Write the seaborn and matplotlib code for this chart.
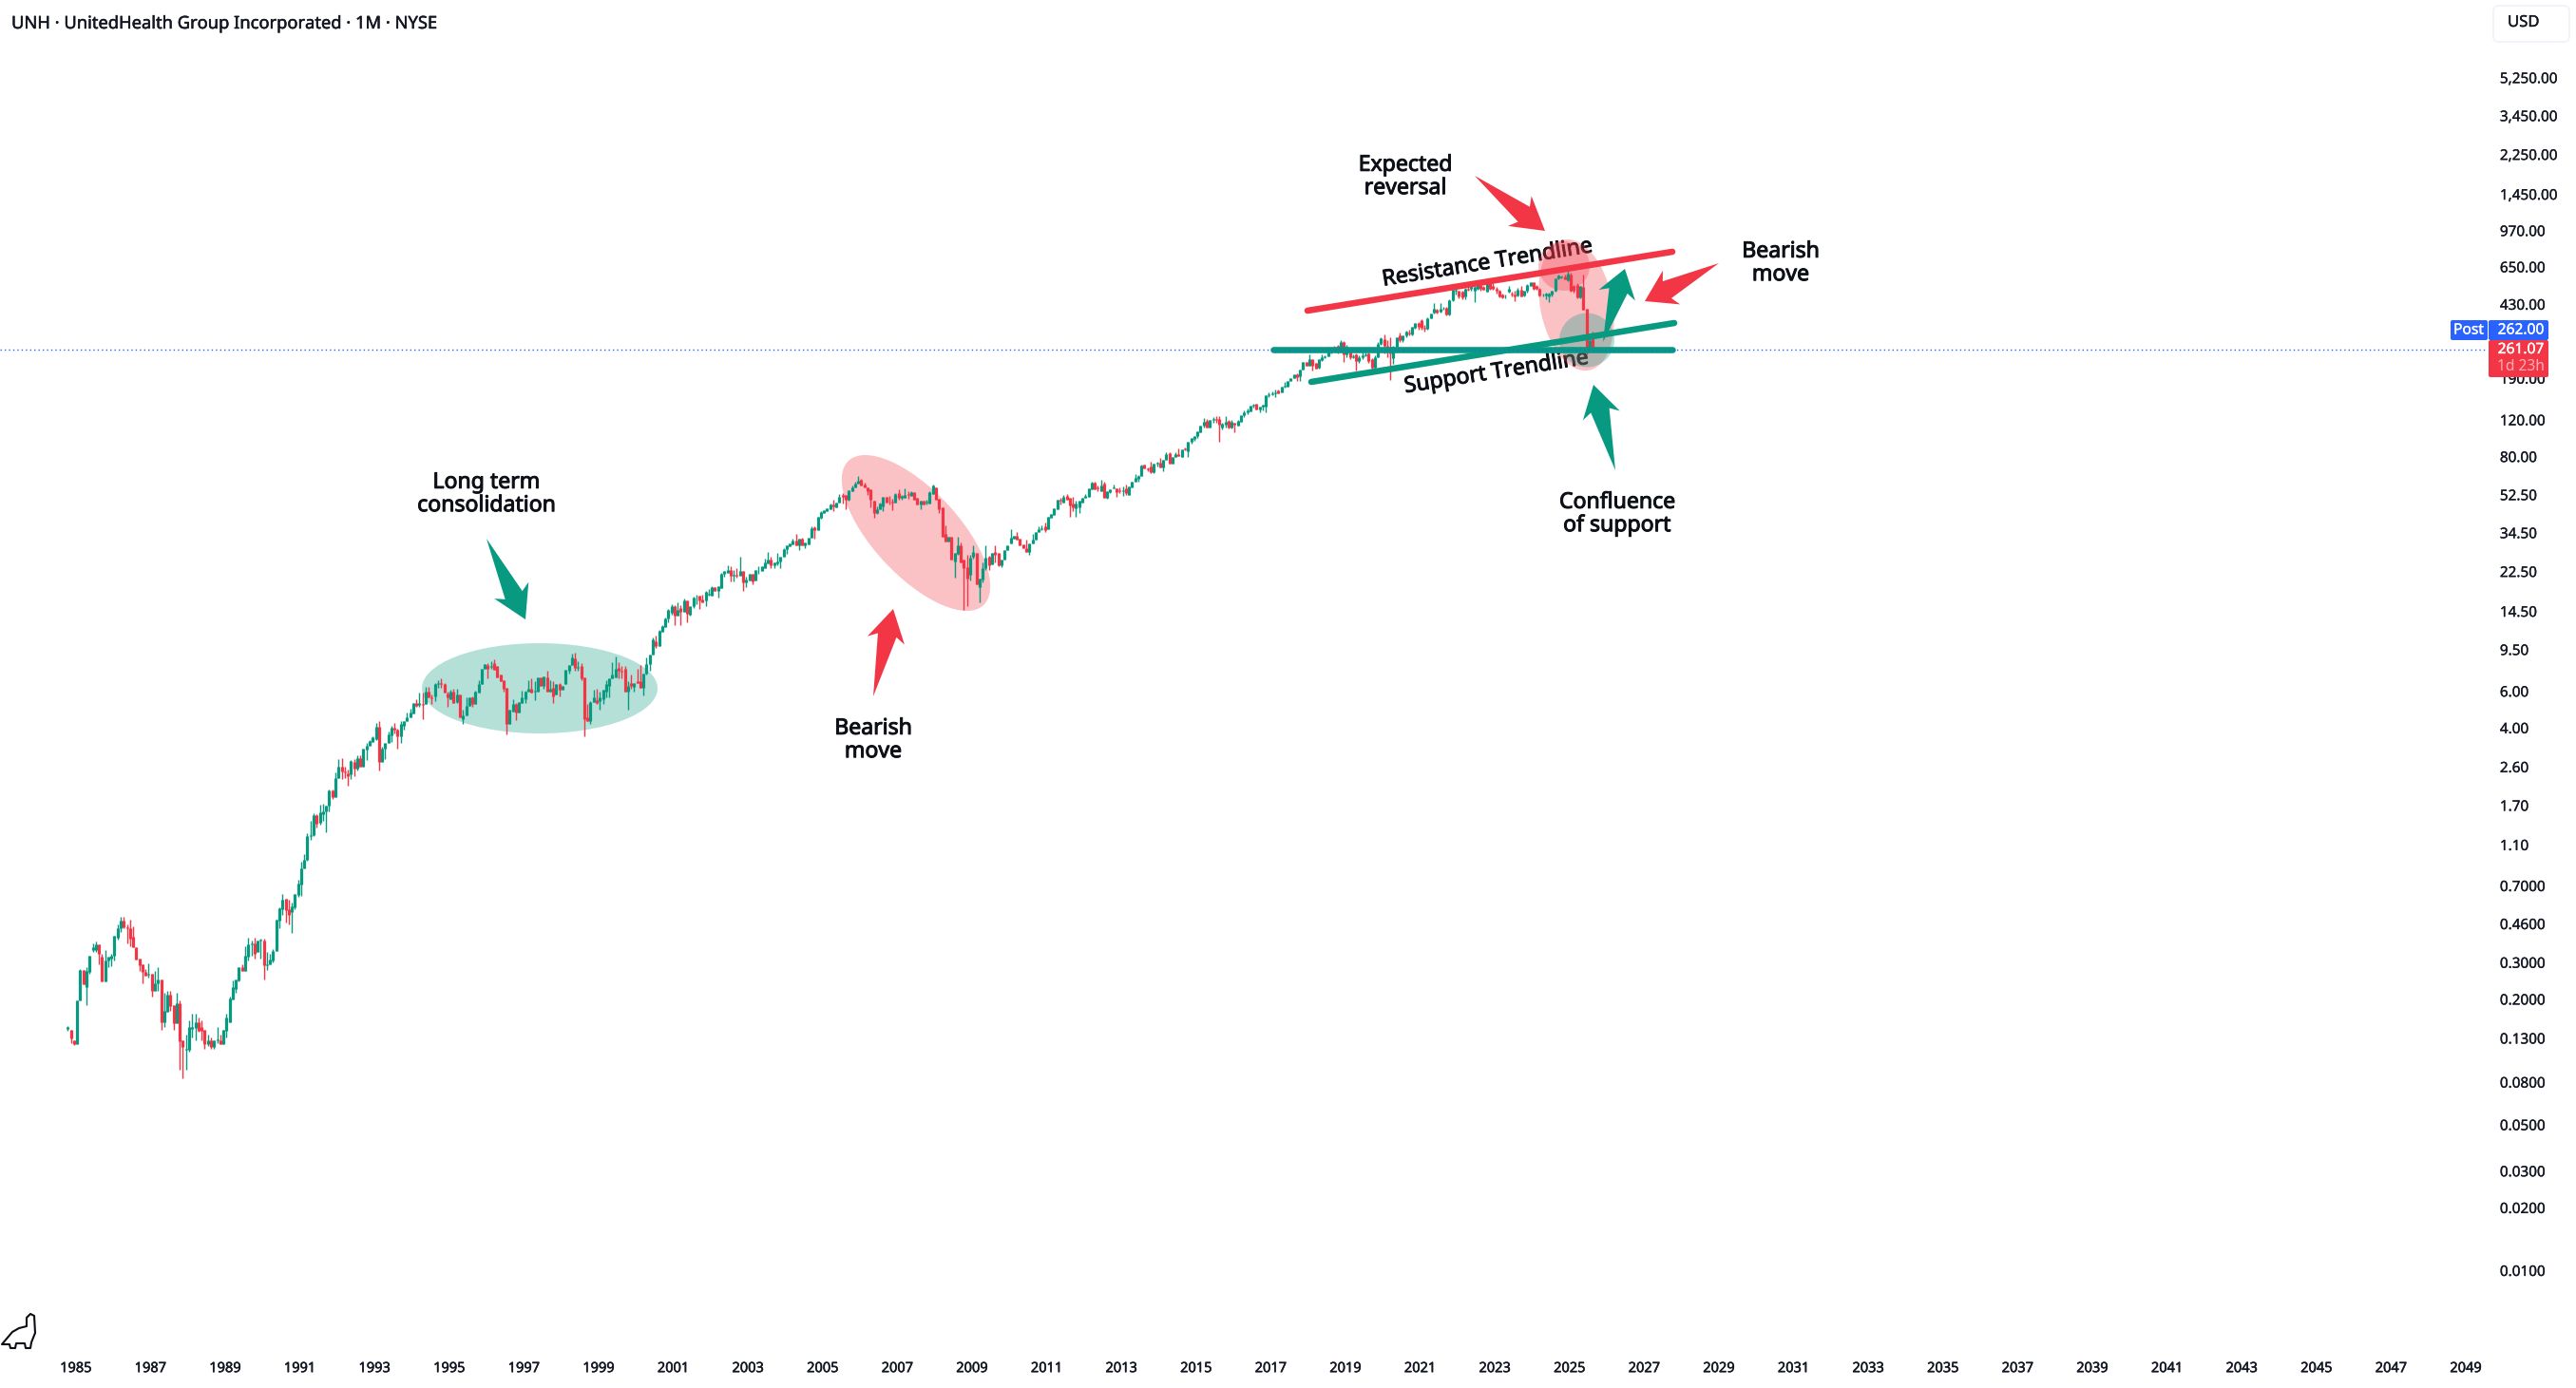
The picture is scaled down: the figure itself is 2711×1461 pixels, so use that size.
import numpy as np
import pandas as pd
import seaborn as sns
import matplotlib
matplotlib.use("Agg")
import matplotlib.pyplot as plt
import matplotlib.patheffects as pe
from matplotlib.patches import Ellipse, Polygon, FancyBboxPatch
from matplotlib.transforms import IdentityTransform
from matplotlib.ticker import NullLocator

# Monthly candles (open, high, low, close), first bar Oct 1984
candles_1984_1991 = [
(.145,.149,.141,.147),(.143,.143,.123,.130),(.127,.127,.121,.122),(.122,.198,.122,.198),(.198,.280,.198,.276),
(.276,.276,.237,.237),(.230,.285,.188,.273),(.270,.323,.265,.323),(.344,.372,.337,.355),(.344,.380,.337,.367),
(.367,.367,.295,.330),(.320,.330,.245,.245),(.245,.344,.245,.307),(.307,.320,.285,.320),(.315,.330,.288,.323),
(.323,.405,.307,.404),(.396,.46,.385,.44),(.44,.50,.42,.477),(.477,.50,.44,.445),(.445,.46,.37,.44),
(.44,.48,.358,.39),(.40,.446,.354,.354),(.356,.356,.31,.31),(.315,.315,.273,.293),(.295,.295,.24,.27),
(.272,.28,.26,.26),(.263,.298,.255,.266),(.265,.265,.206,.22),(.22,.273,.22,.24),(.24,.285,.22,.249),
(.249,.249,.143,.156),(.156,.215,.147,.177),(.175,.22,.175,.21),(.21,.22,.176,.186),(.188,.188,.143,.154),
(.154,.215,.154,.192),(.192,.198,.092,.126),(.127,.127,.084,.118),(.114,.136,.092,.116),(.115,.159,.112,.147),
(.145,.17,.132,.147),(.146,.17,.127,.156),(.156,.164,.14,.142),(.147,.159,.127,.142),(.143,.143,.116,.122),
(.122,.136,.12,.127),(.127,.132,.116,.118),(.118,.127,.116,.127),(.127,.147,.123,.128),(.127,.136,.122,.122),
(.122,.143,.122,.143),(.142,.17,.132,.164),(.156,.206,.156,.202),(.2,.247,.2,.228),(.225,.249,.215,.249),
(.247,.285,.245,.285),(.285,.295,.273,.273),(.273,.36,.273,.323),(.32,.396,.307,.367),(.367,.383,.323,.372),
(.37,.396,.315,.33),(.337,.383,.337,.383),(.383,.39,.315,.388),(.383,.39,.25,.292),(.292,.337,.276,.295),
(.295,.33,.295,.31),(.307,.35,.3,.34),(.34,.48,.34,.48),(.477,.55,.44,.547),(.54,.638,.51,.60),
(.605,.605,.467,.535),(.54,.60,.457,.51),(.525,.58,.415,.56),(.55,.64,.54,.64),(.635,.75,.62,.72),
(.71,.91,.63,.85),(.85,.99,.85,.93),(.93,1.25,.92,1.22),
]
candles_1991_1994 = [
(1.22,1.43,1.16,1.23),(1.23,1.56,1.22,1.53),(1.53,1.55,1.34,1.39),(1.40,1.71,1.38,1.57),(1.55,1.74,1.44,1.60),
(1.59,1.70,1.26,1.70),(1.70,2.02,1.59,2.00),(2.0,2.02,1.82,1.86),(1.86,2.45,1.86,2.30),(2.30,2.83,2.30,2.60),
(2.60,2.88,2.27,2.47),(2.47,2.62,2.30,2.44),(2.43,2.54,2.125,2.36),(2.40,2.80,2.27,2.77),(2.74,2.83,2.36,2.57),
(2.55,2.95,2.5,2.86),(2.88,2.97,2.6,2.6),(2.6,3.2,2.6,3.2),(3.17,3.4,2.8,3.3),(3.28,3.5,3.28,3.47),
(3.43,3.67,3.43,3.6),(3.55,4.22,3.5,4.05),(4.05,4.32,2.5,2.75),(2.75,3.25,2.75,3.2),(3.2,3.4,2.83,3.4),
(3.4,3.85,3.4,3.72),(3.7,4.1,3.44,4.0),(4.0,4.22,3.75,3.92),(3.95,3.98,3.2,3.65),(3.65,4.3,3.4,4.2),
(4.1,4.34,3.95,4.3),(4.3,4.75,4.3,4.5),(4.5,4.95,4.5,4.75),(4.7,5.3,4.7,5.3),(5.3,5.5,5.05,5.1),
(5.15,5.9,5.05,5.3),(5.22,5.9,4.4,5.16),(5.2,6.3,5.2,6.0),
]
candles_1994_2000 = [
(5.96,6.3,5.6,5.6),(5.62,5.8,5.2,5.58),(5.65,6.6,5.4,6.5),(6.5,6.8,6.25,6.55),(6.55,6.9,6.25,6.5),
(6.5,6.55,5.9,5.9),(5.85,5.95,5.05,5.6),(5.5,6.1,5.5,6.0),(6.0,6.2,5.3,5.3),(5.35,6.2,5.3,5.8),
(5.8,5.8,4.5,4.5),(4.4,4.9,4.2,4.6),(4.6,5.6,4.6,5.1),(5.1,5.6,5.1,5.6),(5.6,5.7,5.05,5.2),
(5.2,6.05,5.2,6.0),(5.9,6.8,5.9,6.5),(6.5,7.7,6.5,7.7),(7.7,8.1,7.7,8.1),(8,8.2,6.9,7.7),
(7.85,8.4,7.7,7.95),(8.2,8.5,7.6,7.6),(7.9,7.9,7,7),(7.2,7.2,6.7,6.7),(6.8,6.8,5.95,6.2),
(6.25,6.25,3.72,4.2),(4.2,4.9,4.2,4.9),(4.8,5.5,4.8,5.2),(5.2,5.3,4.35,4.75),(4.75,5.35,4.75,5.35),
(5.3,6.05,5.3,5.6),(5.5,6.05,5.3,6.0),(6,6.8,6,6.2),(6.2,6.9,5.9,5.9),(5.95,6.7,5.45,6.05),
(5.95,7,5.95,7),(7,7,6.4,6.4),(6.4,7.1,6.2,7.05),(7,7.5,6,6),(6,6.8,6,6.2),
(6.25,6.7,5.3,5.7),(5.8,6.5,5.8,6.5),(6.5,6.6,5.7,6.1),(6.1,6.4,6.1,6.4),(6.5,7.6,6.5,7.6),
(7.5,8,7.3,8),(8,9.1,8,8.7),(8.6,9.2,7.5,7.8),(7.75,8.4,7.5,7.85),(7.9,8.2,6.8,6.9),
(7,7,3.65,4.4),(4.5,5.2,4.3,4.3),(4.3,5.4,4.2,5.35),(5.35,6.1,5.35,5.6),(5.45,6.2,5.2,5.3),
(5.4,6.0,4.9,5.6),(5.5,6.1,5.2,6.1),(6,6.8,5.6,6.5),(6.4,6.9,5.6,6.9),(6.9,8.3,6.9,7.2),
(7,8.8,7,7.7),(7.8,8.3,6.9,7.5),(7.55,7.9,6.9,7.45),(7.7,7.9,6,6),(6,6.7,4.9,6.4),
(6.6,7.2,6.2,6.4),(6.3,6.6,6,6.6),(6.7,7.7,6.6,6.6),(6.7,8,6.25,6.25),(6.25,7.3,5.75,7.3),
(7.3,8.7,7.2,8.1),(8.1,9.0,7.5,9.0),(9,10.9,9,10.6),(10.4,11.1,9.7,9.9),(9.9,11.8,9.9,11.7),
(11.6,12.4,11.6,12.3),(12.2,13.5,12.2,13.4),(13.4,14.9,12.8,14.8),
]
candles_2000_2006 = [
(14.3,15.7,14.0,15.3),(15.3,15.5,12.4,13.9),(13.9,16,13.9,14.7),(15,15.6,12.4,14.5),(14.5,16.8,14.5,16.3),
(16.3,16.3,12.9,14.2),(14,15.3,13.9,15.3),(15.3,17.1,15.1,16.9),(17,17.5,15.7,17.15),(17.2,17.3,14.9,16.3),
(16.5,17.5,16,16),(16.3,18.2,15.4,18),(17.5,18.6,17.2,17.7),(17.2,19.1,17.2,18.9),(18.9,18.9,18.2,18.2),
(18.2,19.2,16.9,19.2),(18.8,22.2,18.8,21.9),(21.9,22.6,21.2,22.6),(22.2,24.1,22.2,22.8),(23,24,20.2,21.6),
(21.5,23,20.2,21.7),(21.8,23.3,21,21.5),(21.6,26.5,21.6,22.6),(22.6,22.6,18.2,20),(20,21.3,19,20.7),
(20.5,21.9,20.5,21.9),(21.9,21.9,19.5,20.2),(20.5,23,20.5,22.9),(22.8,23.9,21.9,23),(22.6,24,22.6,23.8),
(23.5,26.1,23.5,25),(24.7,28,24.7,25.8),(25.8,26.4,23.5,24.2),(24.2,25,23.4,25),(24.7,27.6,24.2,25.2),
(25.2,26.5,23.5,26.5),(26.4,29.2,26.4,28.9),(28.9,30,27.5,30),(29.7,30.7,29.7,30.7),(30.5,32.4,30.5,31.8),
(31.8,34,30,30),(30,32.4,28.5,32.4),(32.4,32.7,30,30),(30,31.2,29,31.2),(30.5,32.7,30.5,32.7),
(32.7,37,32.7,36.2),(36.7,37.2,32.4,35.7),(35.4,41.4,35.4,41),(40.7,44,40.4,43.5),(43,44.2,43,44.2),
(44,45.5,44,45.3),(44.9,47.9,44.9,47.3),(47.3,50,44,46.4),(45.9,48.4,45.9,48.4),(48.4,53,48.4,51.5),
(52.6,53.6,47.5,51.5),(52.6,52.6,45,50),
]
candles_2006_2011 = [
(50,55.5,49.5,55.5),(54.8,58,54.8,57.3),(57.3,61,57.3,59.2),(59.2,65,59.2,61.5),(62,62.5,58.4,58.4),
(59,60,57.3,57.3),(57.3,57.3,52.5,54.8),(56,56,46,50),(49,49.5,40.8,43),(43,46.3,42.5,45),
(45,48,45,47.5),(46.3,51.5,44,51.5),(51.5,51.5,48,48),(48.9,52,47,48.5),(48.8,50.5,44.5,48.2),
(48,53.5,48,53),(53.7,56,50,51),(51,52.5,50,51.8),(51,56.5,51,52.5),(52.8,54.8,50.5,52.2),
(52,54.5,52,54),(54,54,50,50),(51,51,47,47),(47,49,45,49),(49,49,47,47),
(48.4,50,47,48.8),(47.5,54.5,47.5,54),(53,59,53,58),(57.3,57.3,50,50),(50.5,50.5,43,45),
(45.6,45.6,33,33),(34,37.5,31.5,31.5),(31.5,33,31.5,33),(33,33,25.7,25.7),(25.3,27.6,21,27.6),
(27.4,33,27,30),(30,31,25,25),(25.7,25.7,14.8,23.4),(23.7,27,15.3,20.8),(21.7,27,20.5,26.3),
(26.6,30,26,28),(27.7,27.7,19.5,19.5),(18.9,20.8,16,20.8),(20.6,25,20,23.4),(23.4,30,23,26.3),
(26.6,26.8,22.8,24.2),(24.5,27.6,24.5,27.6),(28,30,25,27),(27.7,27.7,24,24.2),(24.2,25.7,23.6,25.7),
(25.7,28.4,25.7,28.4),(28.4,30,28.4,30),(30.8,36,30.8,32.8),(32.3,33.5,32.3,33.5),(33.5,35,32,32),
(32.3,32.3,30,30),(30.4,30.4,29,29),(29,32,28,28),
]
candles_2011_2015 = [
(28,30.6,27.2,30.6),(30.6,34,30.6,32),(32,35,32,35),(34.7,37.2,34.7,36),(36,37.6,35.5,36.5),
(37,38.5,35,35.6),(36,41,36,41),(40.7,42.6,40.7,42.6),(42,45.5,42,45.3),(44.8,49.6,44.8,49.6),
(49.6,51,47,49.2),(48,52.6,48,51.5),(52,53,49.6,49.6),(50.7,50.7,41.4,46.8),(47.7,51.3,44,46),
(45.3,49.5,41.4,47.7),(46,49,43,49),(48,50.7,48,50.7),(50.7,53,50.7,52),(51.5,56.5,51.5,56.5),
(56,60.5,56,60),(60,60.5,56,56),(57,58,54.5,56.4),(54.8,62,54.8,58.5),(59.5,60.5,50.7,50.7),
(51,54.8,50.5,54.8),(54.2,56,53.5,56),(56.2,59,56.2,57),(56.5,56.5,51.5,54),(55.2,57,53.5,54.6),
(54.6,57.5,52,55.3),(56.5,59,52.5,53.5),(52.5,57.6,52.5,57.6),(57,60.8,57,60.8),(60.5,66,60.5,63.5),
(63,65.5,61,65),(65,73,65,72.5),(73,73,70,70),(70.5,71,68,69.5),(72,75.5,67,67.3),
(67.3,74,67,74),(74,75.5,72,75),(75,79,71,71),(71,77,68.5,77),(77,84,77,82.6),
(83.5,84.5,74.3,74.3),(74,80,74,80),(80,84,80,82.6),(82.5,88,81,81),
]
candles_2015_2020 = [
(80,87,80,87),(87.7,88.5,85.5,87),(85,94,80,94),(94,98.5,92.5,98),(97,101,95,100),
(100,106,98,106),(105,113,105,113),(113,123,111,118),(119,122,111,111),(111,120,111,120),
(120,124,117,122),(122,125,116,120),(121,125,94,114),(111,116,108,115),(114,125,111,118),
(119,120,109,111),(111,120,109,118),(116,117,105,114),(113,120,113,119),(118,127,118,127),
(126,134,124,130),(130,136,128,133),(132,140,132,140),(140,143,138,142),(143,143,135,135),
(135,139,130,139),(139,142,133,142),(139,157,130,157),(157,163,155,159),(159,165,157,161),
(161,168,155,163),(167,168,161,161),(163,174,163,174),(174,182,172,175),(174,184,174,184),
(184,190,184,190),(190,198,190,198),(198,200,185,192),(194,209,184,209),(209,228,209,228),
(228,228,219,219),(219,247,219,235),(235,236,207,219),(225,225,211,211),(215,235,212,235),
(232,247,230,240),(240,245,238,243),(243,270,243,256),(256,262,250,259),(268,272,262,264),
(272,275,250,256),(255,290,255,285),(285,287,228,247),(247,275,240,270),(265,268,235,240),
(240,247,238,243),(247,250,207,230),(230,246,225,240),(240,256,236,244),(244,252,242,249),
(250,252,225,230),
]
candles_2020_2025 = [
(235,237,207,214),(215,245,212,240),(240,283,240,279),(279,300,275,297),(293,310,250,272),
(272,290,240,255),(258,300,186,250),(237,272,222,269),(269,300,262,300),(305,315,285,291),
(291,305,285,305),(305,322,300,318),(315,325,305,312),(310,335,305,335),(332,350,328,350),
(350,355,325,335),(360,365,325,332),(332,342,318,328),(328,372,325,370),(370,390,368,390),
(395,435,390,409),(405,410,390,395),(397,435,395,409),(409,420,405,412),(415,420,380,385),
(385,455,380,450),(450,510,445,505),(500,510,480,505),(500,500,460,470),(495,500,455,465),
(470,515,455,511),(511,520,500,505),(511,530,500,530),(498,530,440,523),(511,540,505,538),
(534,545,500,511),(520,530,505,505),(495,555,495,550),(550,555,505,511),(530,545,505,511),
(511,520,485,498),(498,505,465,470),(480,485,460,465),(470,480,462,472),(495,530,490,511),
(485,495,470,478),(480,500,445,470),(476,515,470,505),(505,525,470,470),(476,500,472,498),
(498,540,490,535),(530,550,525,547),(547,550,505,511),(530,535,505,511),(511,515,470,475),
(478,485,470,480),(475,490,455,487),(470,490,440,487),(478,500,470,498),(498,575,495,573),
(573,595,568,592),(582,590,575,584),(588,600,565,570),(560,632,555,605),(601,610,495,498),
(530,535,490,498),(534,545,460,465),(465,530,460,525),(520,601,405,407),(409,412,248,266),
(268,305,255,290),(300,320,258,261.07),
]

price_ticks = [5250, 3450, 2250, 1450, 970, 650, 430, 190, 120, 80, 52.5, 34.5, 22.5, 14.5, 9.5, 6, 4,
               2.6, 1.7, 1.1, 0.7, 0.46, 0.3, 0.2, 0.13, 0.08, 0.05, 0.03, 0.02, 0.01]
price_labels = ["5,250.00", "3,450.00", "2,250.00", "1,450.00", "970.00", "650.00", "430.00", "190.00",
                "120.00", "80.00", "52.50", "34.50", "22.50", "14.50", "9.50", "6.00", "4.00", "2.60",
                "1.70", "1.10", "0.7000", "0.4600", "0.3000", "0.2000", "0.1300", "0.0800", "0.0500",
                "0.0300", "0.0200", "0.0100"]
year_labels = list(range(1985, 2050, 2))
last_close = 261.07

TEAL, RED, BLUE, INK = "#089981", "#F23645", "#2962FF", "#131722"
FONT = ["Noto Sans", "DejaVu Sans"]

sns.set_theme(style="white")
plt.rcParams["font.family"] = FONT

W, H = 2711, 1461
fig = plt.figure(figsize=(W / 100, H / 100), dpi=100, facecolor="white")
AX_R, AX_B = 2617, 1420
ax = fig.add_axes([0, 1 - AX_B / H, AX_R / W, AX_B / H])

rows = (candles_1984_1991 + candles_1991_1994 + candles_1994_2000 + candles_2000_2006 +
        candles_2006_2011 + candles_2011_2015 + candles_2015_2020 + candles_2020_2025)
df = pd.DataFrame(rows, columns=["open", "high", "low", "close"])
df["bar"] = np.arange(len(df))
df["dir"] = np.where(df["close"] >= df["open"], "up", "down")

wick = df.melt(id_vars=["bar", "dir"], value_vars=["low", "high"], value_name="price")
body = df.melt(id_vars=["bar", "dir"], value_vars=["open", "close"], value_name="price")
pal = {"up": TEAL, "down": RED}
sns.lineplot(data=wick, x="bar", y="price", hue="dir", units="bar", estimator=None, palette=pal, sort=False,
             legend=False, ax=ax, lw=1.0, solid_capstyle="butt", zorder=2)
sns.lineplot(data=body, x="bar", y="price", hue="dir", units="bar", estimator=None, palette=pal, sort=False,
             legend=False, ax=ax, lw=2.3, solid_capstyle="butt", zorder=2.1)

ax.set_yscale("log")
PX_PER_BAR, BAR0_PX = 3.275, 71.3
ax.set_xlim((0 - BAR0_PX) / PX_PER_BAR, (AX_R - BAR0_PX) / PX_PER_BAR)
ax.set_ylim(10 ** (2.4168 - (AX_B - 368) / 219.5), 10 ** (2.4168 + 368 / 219.5))

def heavy(t, w):
    t.set_path_effects([pe.withStroke(linewidth=w, foreground=t.get_color())])

ax.set_yticks(price_ticks)
ax.set_yticklabels(price_labels, ha="left")
ax.yaxis.set_minor_locator(NullLocator())
ax.yaxis.tick_right()
ax.tick_params(axis="y", length=0, pad=10, labelsize=11, colors=INK)
ax.set_xticks([2.6 + (y - 1985) * 12 for y in year_labels])
ax.set_xticklabels([str(y) for y in year_labels])
ax.tick_params(axis="x", length=0, pad=9.5, labelsize=10.5, colors=INK)
for t in ax.get_yticklabels():
    heavy(t, 0.2)
for t in ax.get_xticklabels():
    heavy(t, 0.35)
ax.set_xlabel("")
ax.set_ylabel("")
for s in ax.spines.values():
    s.set_visible(False)
ax.grid(False)

# Last price dotted line
ax.axhline(last_close, color=BLUE, lw=1.0, ls=(0, (1, 2.2)), zorder=5)

# ---- Drawing layer, in image pixels
ID = IdentityTransform()
def P(x, y):
    return (x, H - y)

def ell(cx, cy, w, h, ang, col, z=1, a=0.3):
    ax.add_patch(Ellipse(P(cx, cy), w, h, angle=ang, transform=ID, fc=col, ec="none", alpha=a, zorder=z))

ell(568, 724.5, 248, 95, 0, TEAL)
ell(964, 561, 208, 90, -47, RED)
ell(1659, 321, 76, 140, 11, RED)
ell(1646, 280, 54, 52, 0, RED)
ell(1670, 358, 58, 57, 0, TEAL)

def tline(p0, p1, col, lw=6.6):
    a, b = P(*p0), P(*p1)
    ax.plot([a[0], b[0]], [a[1], b[1]], color=col, lw=lw * 0.72, solid_capstyle="round", transform=ID, zorder=3)

tline((1376, 327), (1760, 265), RED)
tline((1380, 402), (1762, 340), TEAL)
tline((1340, 368), (1760, 368), TEAL)

def arrow(tail, tip, col, hb=20, hn=10, fb=0.36, fn=0.30):
    tail, tip = np.array(tail, float), np.array(tip, float)
    d = tip - tail
    n = np.array([-d[1], d[0]]) / np.hypot(*d)
    barb = tip - d * fb
    neck = tip - d * fn
    pts = [tail, neck + n * hn, barb + n * hb, tip, barb - n * hb, neck - n * hn]
    ax.add_patch(Polygon([P(*p) for p in pts], closed=True, transform=ID, fc=col, ec="none", zorder=3.2))

arrow((1552, 185), (1626, 243), RED)
arrow((1809, 277), (1731, 317), RED)
arrow((1687, 360), (1710, 283), TEAL)
arrow((1700, 495), (1677, 405), TEAL)
arrow((512, 567), (553, 652), TEAL)
arrow((919, 733), (940, 641), RED)

def label(x, y, s, rot=0, size=16.6):
    px, py = P(x, y)
    t = ax.text(px, py, s, transform=ID, ha="center", va="center", rotation=rot, rotation_mode="anchor",
                fontsize=size, color="#0d1017", linespacing=1.02, zorder=0.5)
    heavy(t, 0.7)

label(512, 520, "Long term\nconsolidation")
label(919, 779, "Bearish\nmove")
label(1702, 541, "Confluence\nof support")
label(1874, 277, "Bearish\nmove")
label(1479, 186, "Expected\nreversal")
label(1565, 277, "Resistance Trendline", rot=9.2)
label(1575, 392, "Support Trendline", rot=9.0)

def ftext(x, y, s, col=INK, size=11, ha="center", z=8, alpha=1, w=0.25):
    px, py = P(x, y)
    t = ax.text(px, py, s, transform=ID, ha=ha, va="center", fontsize=size, color=col, zorder=z,
                alpha=alpha, clip_on=False)
    if w:
        heavy(t, w)

ftext(12, 25, "UNH · UnitedHealth Group Incorporated · 1M · NYSE", size=13.2, ha="left", w=0.35)

# USD button and price tags
ax.add_patch(FancyBboxPatch(P(2627, 41), 74, 32, boxstyle="round,pad=3,rounding_size=6", transform=ID,
                            fc="white", ec="#F0F3FA", lw=1.4, zorder=7, clip_on=False))
ftext(2639, 24, "USD", ha="left", size=12)

def tag(x0, y0, x1, y1, col):
    ax.add_patch(FancyBboxPatch(P(x0 + 1, y1 - 1), x1 - x0 - 2, y1 - y0 - 2, boxstyle="round,pad=1,rounding_size=2",
                                transform=ID, fc=col, ec="none", zorder=7, clip_on=False))

tag(2579, 337, 2618, 358, BLUE)
tag(2619, 337, 2682, 358, BLUE)
tag(2619, 358, 2682, 397, RED)
ftext(2598, 347.5, "Post", col="white", size=11.2)
ftext(2653, 347.5, "262.00", col="white", size=11.2)
ftext(2653, 368, "261.07", col="white", size=11.2)
ftext(2653, 386, "1d 23h", col="white", size=11.2, alpha=0.6, w=0)

# Logo
dino = [(2, 1415), (13, 1402), (20, 1398), (28, 1396), (28, 1387), (32, 1383), (36, 1385), (37, 1403),
        (33, 1413), (32, 1419), (27, 1419), (26, 1414), (17, 1414), (16, 1419), (11, 1419), (10, 1415)]
ax.add_patch(Polygon([P(*p) for p in dino], closed=True, transform=ID, fc="none", ec="#0b0e14", lw=1.5,
                     joinstyle="round", zorder=8, clip_on=False))

fig.savefig("out.png", dpi=100, facecolor="white")
